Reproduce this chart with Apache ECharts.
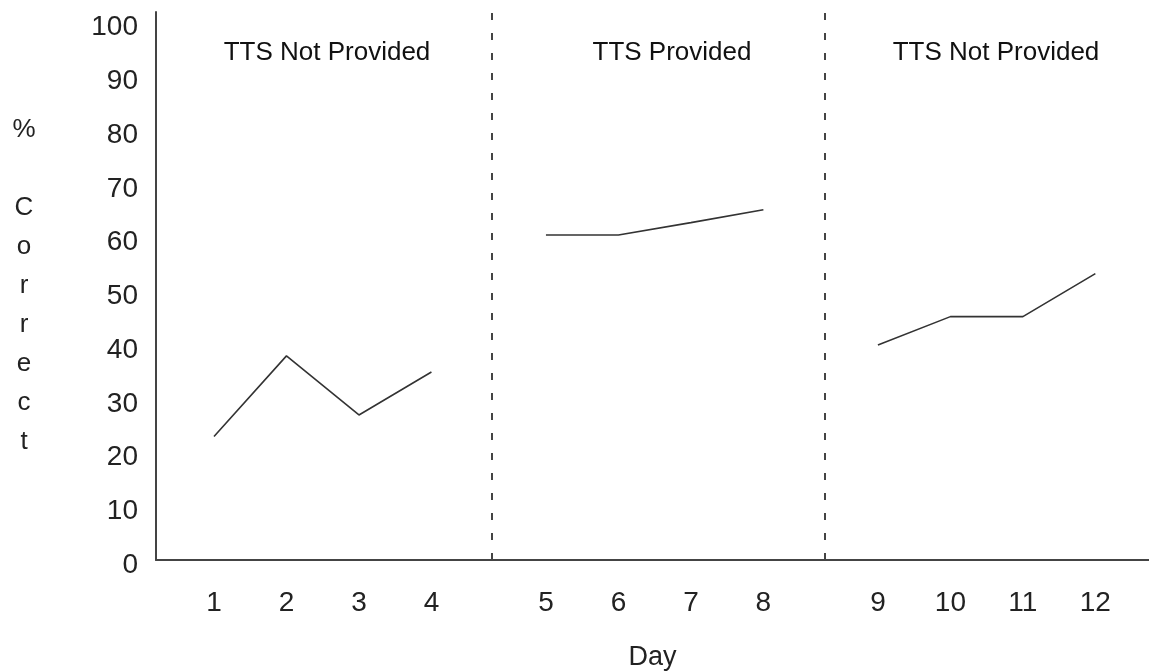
<!DOCTYPE html>
<html>
<head>
<meta charset="utf-8">
<script src="https://cdn.jsdelivr.net/npm/echarts@6/dist/echarts.min.js"></script>
<style>html,body{margin:0;padding:0;background:#fff;}#c{width:1149px;height:672px;}</style>
</head>
<body>
<div id="c"></div>
<script>
// ---- data ----
const phaseTitles = ['TTS Not Provided', 'TTS Provided', 'TTS Not Provided'];
const phase1Days = [1, 2, 3, 4];
const phase1Values = [23, 38, 27, 35];
const phase2Days = [5, 6, 7, 8];
const phase2Values = [60.5, 60.5, 62.8, 65.2];
const phase3Days = [9, 10, 11, 12];
const phase3Values = [40, 45.3, 45.3, 53.3];
const yTicks = [0, 10, 20, 30, 40, 50, 60, 70, 80, 90, 100];

// ---- layout helpers (axis position of a day: phases separated by an extra gap) ----
const PHASE_GAP = 0.58;
const phases = [phase1Days, phase2Days, phase3Days];
const phaseValues = [phase1Values, phase2Values, phase3Values];
function dayPos(day) {
  const g = phases.findIndex(p => p.indexOf(day) >= 0);
  return day + g * PHASE_GAP;
}
const allDays = [].concat(phase1Days, phase2Days, phase3Days);
const posToDay = {};
allDays.forEach(d => { posToDay[dayPos(d).toFixed(3)] = d; });
const dividerPos = [
  (dayPos(phase1Days[phase1Days.length - 1]) + dayPos(phase2Days[0])) / 2 + 0.04,
  (dayPos(phase2Days[phase2Days.length - 1]) + dayPos(phase3Days[0])) / 2 + 0.05
];

const FONT = '"Liberation Sans", Arial, Helvetica, sans-serif';
const chart = echarts.init(document.getElementById('c'), null, {renderer: 'canvas'});

const series = phases.map((days, gi) => ({
  type: 'line',
  data: days.map((d, i) => [dayPos(d), phaseValues[gi][i]]),
  symbol: 'none',
  lineStyle: {color: '#333', width: 1.6},
  silent: true,
  markLine: gi === 0 ? {
    silent: true,
    symbol: 'none',
    label: {show: false},
    lineStyle: {color: '#444', width: 2, type: [7, 13]},
    data: dividerPos.map(x => ({xAxis: x}))
  } : undefined
}));

chart.setOption({
  animation: false,
  backgroundColor: '#fff',
  grid: {left: 156, right: 0, top: 12, bottom: 112, containLabel: false, outerBoundsMode: 'none'},
  xAxis: {
    type: 'value',
    min: 0.2,
    max: 13.9,
    name: 'Day',
    nameLocation: 'middle',
    nameGap: 84,
    nameTextStyle: {fontFamily: FONT, fontSize: 27, color: '#222'},
    axisLine: {show: true, lineStyle: {color: '#444', width: 2}},
    axisTick: {show: false},
    splitLine: {show: false},
    axisLabel: {
      customValues: allDays.map(dayPos),
      formatter: v => { const d = posToDay[Number(v).toFixed(3)]; return d === undefined ? '' : String(d); },
      margin: 29,
      fontFamily: FONT,
      fontSize: 28,
      color: '#222'
    }
  },
  yAxis: {
    type: 'value',
    min: 0,
    max: 102,
    name: '%\n\nC\no\nr\nr\ne\nc\nt',
    nameLocation: 'middle',
    nameRotate: 0,
    nameGap: 132,
    nameTextStyle: {fontFamily: FONT, fontSize: 26, color: '#222', align: 'center', verticalAlign: 'middle', lineHeight: 39},
    axisLine: {show: true, lineStyle: {color: '#444', width: 2}},
    axisTick: {show: false},
    splitLine: {show: false},
    axisLabel: {
      customValues: yTicks,
      margin: 18,
      verticalAlign: 'top',
      lineHeight: 10,
      fontFamily: FONT,
      fontSize: 28,
      color: '#222'
    }
  },
  graphic: phaseTitles.map((t, i) => ({
    type: 'text',
    x: [327, 672, 996][i],
    y: 53,
    style: {text: t, fontFamily: FONT, fontSize: 26, fill: '#111', textAlign: 'center', textVerticalAlign: 'middle'}
  })),
  series: series
});
</script>
</body>
</html>
